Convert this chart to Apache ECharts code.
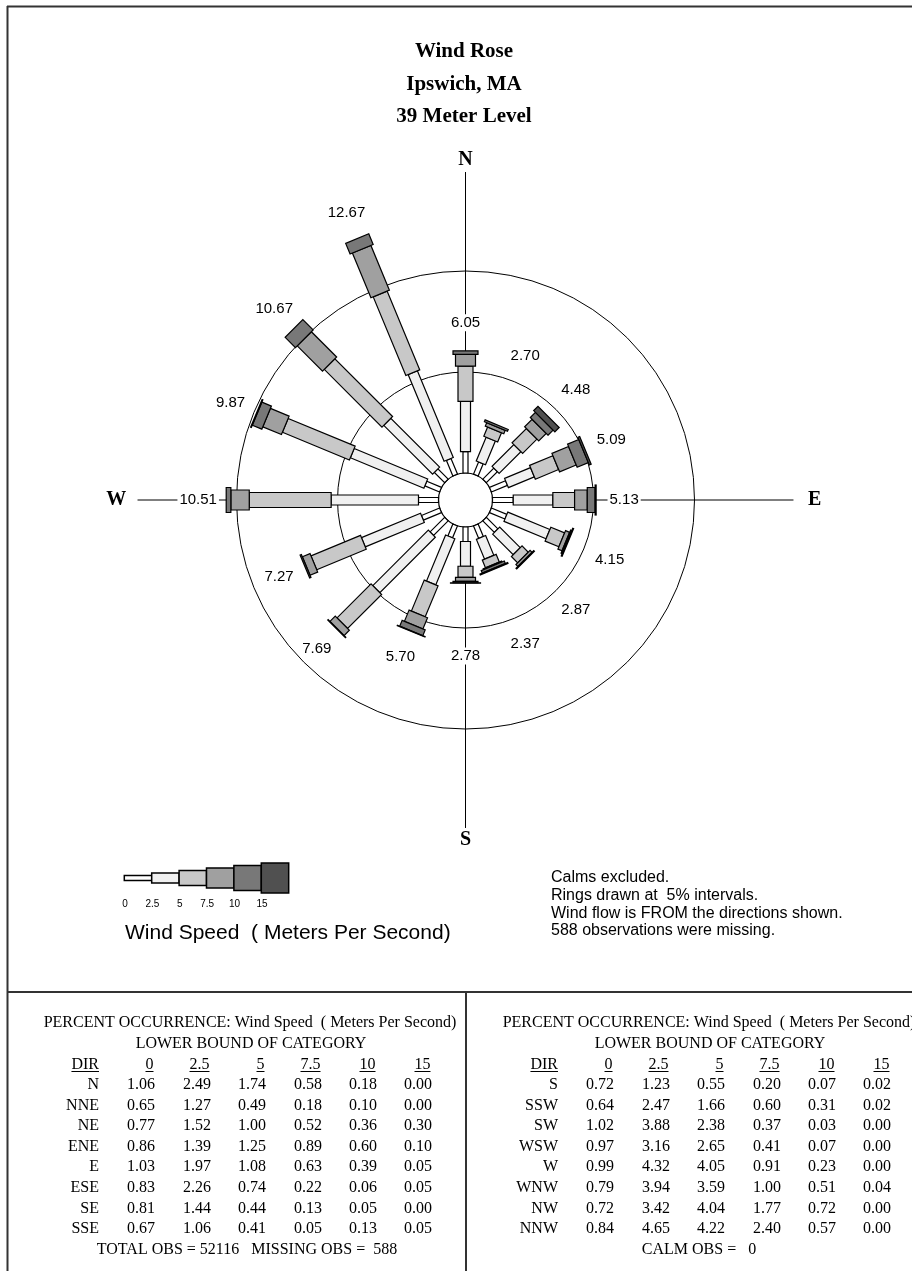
<!DOCTYPE html>
<html>
<head>
<meta charset="utf-8">
<script src="https://cdn.jsdelivr.net/npm/echarts@6/dist/echarts.min.js"></script>
<style>
html, body { margin: 0; padding: 0; background: #fff; }
#chart { width: 912px; height: 1271px; }
</style>
</head>
<body>
<div id="chart"></div>
<script>
// ---- Wind rose data: percent occurrence by direction and wind-speed class ----
const directions = ['N', 'NNE', 'NE', 'ENE', 'E', 'ESE', 'SE', 'SSE',
                    'S', 'SSW', 'SW', 'WSW', 'W', 'WNW', 'NW', 'NNW'];
const speedBins = ['0', '2.5', '5', '7.5', '10', '15'];
const pct0  = [1.06, 0.65, 0.77, 0.86, 1.03, 0.83, 0.81, 0.67, 0.72, 0.64, 1.02, 0.97, 0.99, 0.79, 0.72, 0.84];
const pct25 = [2.49, 1.27, 1.52, 1.39, 1.97, 2.26, 1.44, 1.06, 1.23, 2.47, 3.88, 3.16, 4.32, 3.94, 3.42, 4.65];
const pct5  = [1.74, 0.49, 1.00, 1.25, 1.08, 0.74, 0.44, 0.41, 0.55, 1.66, 2.38, 2.65, 4.05, 3.59, 4.04, 4.22];
const pct75 = [0.58, 0.18, 0.52, 0.89, 0.63, 0.22, 0.13, 0.05, 0.20, 0.60, 0.37, 0.41, 0.91, 1.00, 1.77, 2.40];
const pct10 = [0.18, 0.10, 0.36, 0.60, 0.39, 0.06, 0.05, 0.13, 0.07, 0.31, 0.03, 0.07, 0.23, 0.51, 0.72, 0.57];
const pct15 = [0.00, 0.00, 0.30, 0.10, 0.05, 0.05, 0.00, 0.05, 0.02, 0.02, 0.00, 0.00, 0.00, 0.04, 0.00, 0.00];
const totals = [6.05, 2.70, 4.48, 5.09, 5.13, 4.15, 2.87, 2.37, 2.78, 5.70, 7.69, 7.27, 10.51, 9.87, 10.67, 12.67];
const ringLevels = [5, 10];
const totalObs = 52116;
const missingObs = 588;
const calmObs = 0;

const titleLines = ['Wind Rose', 'Ipswich, MA', '39 Meter Level'];
const noteLines = ['Calms excluded.', 'Rings drawn at  5% intervals.',
                   'Wind flow is FROM the directions shown.', missingObs + ' observations were missing.'];
const legendTitle = 'Wind Speed  ( Meters Per Second)';
const tableTitle = 'PERCENT OCCURRENCE: Wind Speed  ( Meters Per Second)';
const tableSubtitle = 'LOWER BOUND OF CATEGORY';

// ---- styling ----
const binColors = ['#ffffff', '#f0f0f0', '#c8c8c8', '#a0a0a0', '#787878', '#505050'];
const binWidths = [5, 10, 15, 20, 25, 30];
const SANS = '"Liberation Sans", Arial, sans-serif';
const SERIF = '"Liberation Serif", "Times New Roman", serif';

const PX = 20.2;          // pixels per percent
const R0 = 27;            // calm-circle radius in pixels
const MAXV = 17;
const rMin = -R0 / PX;
const CENTER = [465.5, 500];
const LABEL_GAP = 28 / PX;
const LINE_END = 14.9;

const pctBins = [pct0, pct25, pct5, pct75, pct10, pct15];
const roseData = directions.map((d, i) =>
  [totals[i], i * 22.5].concat(pctBins.map(arr => arr[i])));

function dist(a, b) { return Math.hypot(a[0] - b[0], a[1] - b[1]); }

// rings, calm circle, compass axes and letters
function renderFrame(params, api) {
  const c = api.coord([rMin, 0]);
  const children = [];
  ['N', 'E', 'S', 'W'].forEach((lab, k) => {
    const ang = k * 90;
    const a = api.coord([0, ang]);
    const b = api.coord([LINE_END, ang]);
    children.push({ type: 'line', shape: { x1: a[0], y1: a[1], x2: b[0], y2: b[1] },
      style: { stroke: '#000', lineWidth: 1 } });
    const p = api.coord([k % 2 === 0 ? 15.5 : 15.95, ang]);
    children.push({ type: 'text', x: p[0], y: p[1],
      style: { text: lab, font: 'bold 20px ' + SERIF, fill: '#000',
               align: 'center', verticalAlign: 'middle', textAlign: 'center', textVerticalAlign: 'middle' } });
  });
  ringLevels.forEach(v => {
    children.push({ type: 'circle', shape: { cx: c[0], cy: c[1], r: dist(c, api.coord([v, 0])) },
      style: { fill: 'none', stroke: '#000', lineWidth: 1 } });
  });
  children.push({ type: 'circle', shape: { cx: c[0], cy: c[1], r: dist(c, api.coord([0, 0])) },
    style: { fill: '#fff', stroke: '#000', lineWidth: 1.2 } });
  return { type: 'group', children: children };
}

// one stacked, stepped bar per direction
function renderBar(params, api) {
  const total = api.value(0);
  const ang = api.value(1);
  const segs = [];
  for (let j = 0; j < speedBins.length; j++) segs.push(api.value(2 + j));
  const sum = segs.reduce((s, v) => s + v, 0);
  const k = total / sum;
  let cum = 0;
  const children = [];
  segs.forEach((v, j) => {
    if (v <= 0) return;
    const s = cum;
    cum += v * k;
    const a = api.coord([s, ang]);
    const b = api.coord([cum, ang]);
    const dx = b[0] - a[0], dy = b[1] - a[1];
    const L = Math.hypot(dx, dy) || 1;
    const h = binWidths[j] / 2;
    const nx = -dy / L * h, ny = dx / L * h;
    children.push({ type: 'polygon',
      shape: { points: [[a[0] + nx, a[1] + ny], [b[0] + nx, b[1] + ny], [b[0] - nx, b[1] - ny], [a[0] - nx, a[1] - ny]] },
      style: { fill: binColors[j], stroke: '#000', lineWidth: 1.2, lineJoin: 'miter' } });
  });
  return { type: 'group', children: children };
}

// total-percent label beyond each bar
function renderLabel(params, api) {
  const total = api.value(0);
  const ang = api.value(1);
  const p = api.coord([Math.max(total, ringLevels[0]) + LABEL_GAP, ang]);
  return { type: 'text', x: p[0], y: p[1],
    style: { text: total.toFixed(2), font: '15px ' + SANS, fill: '#000',
             align: 'center', verticalAlign: 'middle', textAlign: 'center', textVerticalAlign: 'middle',
             backgroundColor: '#fff', padding: [1, 2] } };
}

// ---- page furniture: frame, titles, legend, notes, tables ----
const measureCtx = document.createElement('canvas').getContext('2d');
function textWidth(str, font) { measureCtx.font = font; return measureCtx.measureText(str).width; }

function txt(x, y, text, font, align) {
  return { type: 'text', x: x, y: y, silent: true,
    style: { text: text, font: font, fill: '#000', align: align || 'left', verticalAlign: 'middle',
             textAlign: align || 'left', textVerticalAlign: 'middle' } };
}
function line(x1, y1, x2, y2, w, color) {
  return { type: 'line', silent: true, shape: { x1: x1, y1: y1, x2: x2, y2: y2 },
    style: { stroke: color || '#000', lineWidth: w || 1 } };
}

const graphics = [];
// frame
graphics.push(line(7, 6.5, 912, 6.5, 2, '#333'));
graphics.push(line(7.5, 6, 7.5, 1271, 2, '#333'));
graphics.push(line(7, 992, 912, 992, 2, '#333'));
graphics.push(line(466, 992, 466, 1271, 2, '#333'));

// titles
titleLines.forEach((t, i) => graphics.push(txt(464, 52 + i * 32.5, t, 'bold 21px ' + SERIF, 'center')));

// legend
const legX0 = 124.3, legStep = 27.4, legY = 878;
speedBins.forEach((b, j) => {
  const x = legX0 + j * legStep;
  graphics.push({ type: 'rect', silent: true,
    shape: { x: x, y: legY - binWidths[j] / 2, width: legStep, height: binWidths[j] },
    style: { fill: binColors[j], stroke: '#000', lineWidth: 1.5 } });
  graphics.push(txt(x + 0.7, 904.7, b, '10px ' + SANS, 'center'));
});
graphics.push(txt(125, 933, legendTitle, '21px ' + SANS, 'left'));

// notes
noteLines.forEach((t, i) => graphics.push(txt(551, 878 + i * 17.6, t, '16px ' + SANS, 'left')));

// tables
const TFONT = '16px ' + SERIF;
const colRight = [99, 155, 211, 266, 322, 377, 432];
const rowY0 = 1085, rowStep = 20.57;
function table(offset, dirStart, footer, footerX) {
  graphics.push(txt(250 + offset, 1023, tableTitle, TFONT, 'center'));
  graphics.push(txt(251 + offset, 1044, tableSubtitle, TFONT, 'center'));
  const heads = ['DIR'].concat(speedBins);
  heads.forEach((h, c) => {
    const xr = colRight[c] + offset - (c === 0 ? 0 : 1.5);
    graphics.push(txt(xr, 1064.3, h, TFONT, 'right'));
    const w = textWidth(h, TFONT);
    graphics.push(line(xr - w, 1071.5, xr, 1071.5, 1));
  });
  for (let r = 0; r < 8; r++) {
    const i = dirStart + r;
    const y = rowY0 + r * rowStep;
    graphics.push(txt(colRight[0] + offset, y, directions[i], TFONT, 'right'));
    pctBins.forEach((arr, c) => graphics.push(txt(colRight[c + 1] + offset, y, arr[i].toFixed(2), TFONT, 'right')));
  }
  graphics.push(txt(footerX, 1250, footer, TFONT, 'center'));
}
table(0, 0, 'TOTAL OBS = ' + totalObs + '   MISSING OBS =  ' + missingObs, 247);
table(459, 8, 'CALM OBS =   ' + calmObs, 699);

const chart = echarts.init(document.getElementById('chart'), null, { renderer: 'canvas' });
chart.setOption({
  animation: false,
  backgroundColor: '#fff',
  polar: { center: CENTER, radius: PX * (MAXV - rMin) },
  angleAxis: { type: 'value', min: 0, max: 360, startAngle: 90, clockwise: true,
    axisLine: { show: false }, axisTick: { show: false }, axisLabel: { show: false }, splitLine: { show: false } },
  radiusAxis: { type: 'value', min: rMin, max: MAXV,
    axisLine: { show: false }, axisTick: { show: false }, axisLabel: { show: false }, splitLine: { show: false } },
  series: [
    { type: 'custom', coordinateSystem: 'polar', z: 1, silent: true, data: [[0, 0]], renderItem: renderFrame },
    { type: 'custom', coordinateSystem: 'polar', z: 2, silent: true, data: roseData, renderItem: renderBar },
    { type: 'custom', coordinateSystem: 'polar', z: 3, silent: true, data: roseData, renderItem: renderLabel }
  ],
  graphic: { elements: graphics }
});
</script>
</body>
</html>
